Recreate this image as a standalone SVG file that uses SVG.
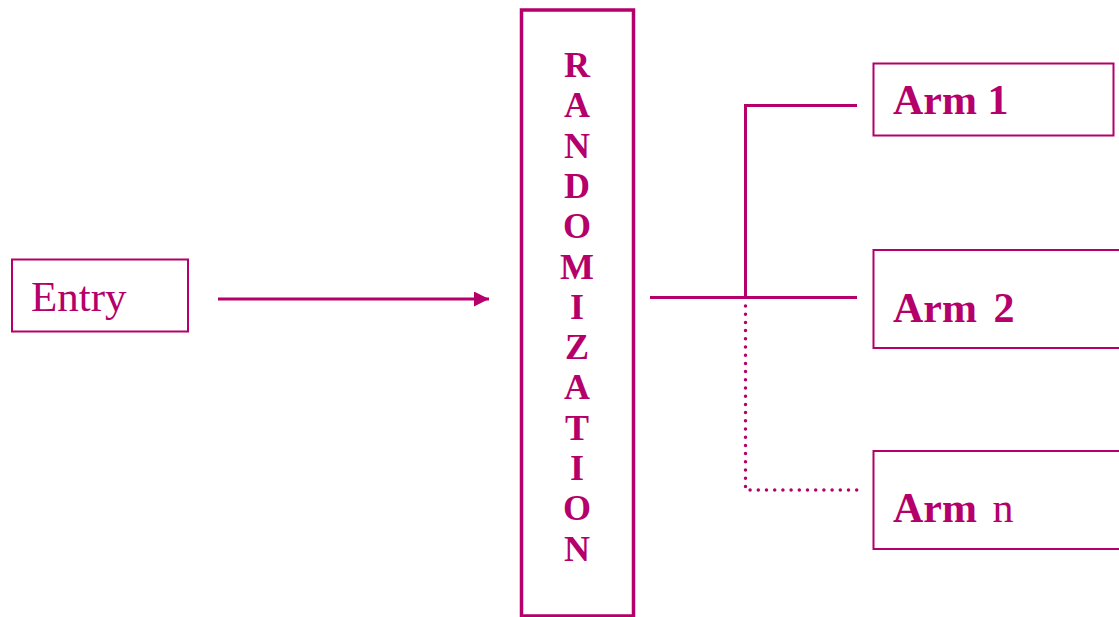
<svg xmlns="http://www.w3.org/2000/svg" width="1119" height="617" viewBox="0 0 1119 617">
<style>
.box{fill:#fff;stroke:#B5006B;stroke-width:2}
.t{fill:#B5006B;font-family:"Liberation Serif","Times New Roman",serif}
.b{font-weight:bold}
.ln{stroke:#B5006B;stroke-width:3;fill:none}
.dot{stroke:#B5006B;stroke-width:3.5;fill:none;stroke-linecap:round;stroke-dasharray:0 8.2}
</style>
<defs>
<marker id="ah" viewBox="0 0 10 10" refX="10" refY="5" markerWidth="5.4" markerHeight="5" markerUnits="strokeWidth" orient="auto">
<path d="M0,0 L10,5 L0,10 z" fill="#B5006B"/>
</marker>
</defs>
<rect width="1119" height="617" fill="#fff"/>
<g id="connectors">
<line class="ln" x1="218" y1="299" x2="489" y2="299" marker-end="url(#ah)"/>
<line class="ln" x1="650" y1="297.5" x2="857" y2="297.5"/>
<polyline class="ln" points="745.5,297.5 745.5,105.5 857,105.5"/>
<polyline class="dot" points="745.5,306 745.5,490 857,490"/>
</g>
<g id="entry">
<rect class="box" x="12" y="259.5" width="176" height="72"/>
<text class="t" x="31" y="311" font-size="43">Entry</text>
</g>
<g id="randomization">
<rect x="521.5" y="10" width="112" height="606" fill="#fff" stroke="#B5006B" stroke-width="3.5"/>
<g class="t b" font-size="36" text-anchor="middle">
<text x="577" y="77">R</text>
<text x="577" y="117.3">A</text>
<text x="577" y="157.6">N</text>
<text x="577" y="197.9">D</text>
<text x="577" y="238.2">O</text>
<text x="577" y="278.5">M</text>
<text x="577" y="318.8">I</text>
<text x="577" y="359.1">Z</text>
<text x="577" y="399.4">A</text>
<text x="577" y="439.7">T</text>
<text x="577" y="480">I</text>
<text x="577" y="520.3">O</text>
<text x="577" y="560.6">N</text>
</g>
</g>
<g id="arm1">
<rect class="box" x="873.5" y="63.5" width="240" height="72"/>
<text class="t b" x="893" y="114" font-size="42">Arm 1</text>
</g>
<g id="arm2">
<rect class="box" x="873.5" y="250" width="250" height="98"/>
<text class="t b" x="893" y="322" font-size="42">Arm <tspan dx="6">2</tspan></text>
</g>
<g id="armn">
<rect class="box" x="873.5" y="451" width="250" height="98"/>
<text class="t" x="893" y="522" font-size="42"><tspan class="b">Arm</tspan> <tspan dx="5">n</tspan></text>
</g>
</svg>
